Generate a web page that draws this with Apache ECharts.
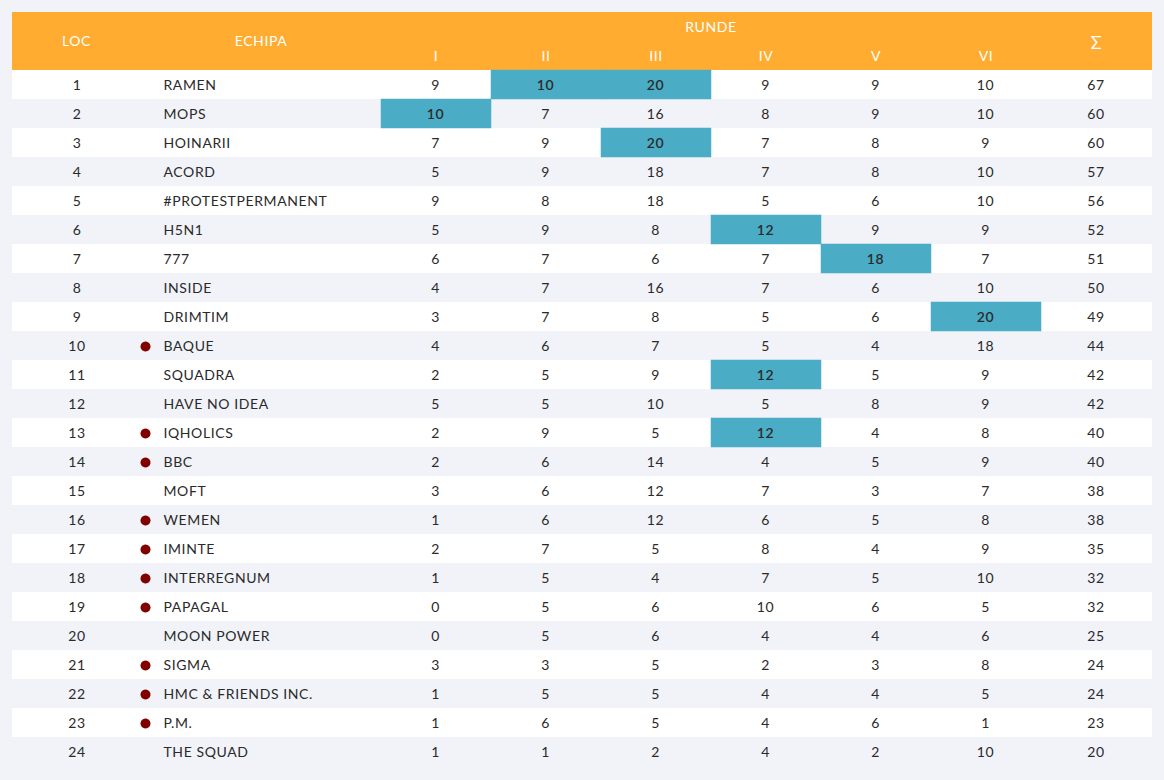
<!DOCTYPE html>
<html>
<head>
<meta charset="utf-8">
<title>Clasament</title>
<script src="https://cdn.jsdelivr.net/npm/echarts@6/dist/echarts.min.js"></script>
<style>
html, body { margin: 0; padding: 0; background: #f1f3f9; }
#chart { width: 1164px; height: 780px; }
#chart text { letter-spacing: 0.6px; }
</style>
</head>
<body>
<div id="chart"></div>
<script>
var places = ['1','2','3','4','5','6','7','8','9','10','11','12','13','14','15','16','17','18','19','20','21','22','23','24'];
var teams = ['RAMEN','MOPS','HOINARII','ACORD','#PROTESTPERMANENT','H5N1','777','INSIDE','DRIMTIM','BAQUE','SQUADRA','HAVE NO IDEA','IQHOLICS','BBC','MOFT','WEMEN','IMINTE','INTERREGNUM','PAPAGAL','MOON POWER','SIGMA','HMC & FRIENDS INC.','P.M.','THE SQUAD'];
var rounds = ['I','II','III','IV','V','VI'];
var round1 = [9,10,7,5,9,5,6,4,3,4,2,5,2,2,3,1,2,1,0,0,3,1,1,1];
var round2 = [10,7,9,9,8,9,7,7,7,6,5,5,9,6,6,6,7,5,5,5,3,5,6,1];
var round3 = [20,16,20,18,18,8,6,16,8,7,9,10,5,14,12,12,5,4,6,6,5,5,5,2];
var round4 = [9,8,7,7,5,12,7,7,5,5,12,5,12,4,7,6,8,7,10,4,2,4,4,4];
var round5 = [9,9,8,8,6,9,18,6,6,4,5,8,4,5,3,5,4,5,6,4,3,4,6,2];
var round6 = [10,10,9,10,10,9,7,10,20,18,9,9,8,9,7,8,9,10,5,6,8,5,1,10];
var totals = [67,60,60,57,56,52,51,50,49,44,42,42,40,40,38,38,35,32,32,25,24,24,23,20];
// teams with the red dot
var marked = ['BAQUE','IQHOLICS','BBC','WEMEN','IMINTE','INTERREGNUM','PAPAGAL','SIGMA','HMC & FRIENDS INC.','P.M.'];

var textColor = '#2a2a2a';
var headerColor = '#ffac30';
var bestColor = '#4bacc6';
var font = 'Lato, "Open Sans", sans-serif';

var myChart = echarts.init(document.getElementById('chart'), null, {renderer: 'svg'});

// round cells, the best score of each round gets the blue fill
var roundCols = [round1, round2, round3, round4, round5, round6];
var roundData = [];
roundCols.forEach(function (col, x) {
    var best = Math.max.apply(null, col);
    col.forEach(function (v, y) {
        var isBest = v === best;
        roundData.push({
            value: [x, y, v],
            itemStyle: {color: isBest ? bestColor : 'transparent'},
            label: {fontWeight: isBest ? 600 : 'normal'}
        });
    });
});

function columnData(values) {
    return values.map(function (v, y) {
        return [0, y, v];
    });
}

function rowAxis(gridIndex) {
    return {
        gridIndex: gridIndex,
        type: 'category',
        inverse: true,
        data: teams,
        axisLine: {show: false},
        axisTick: {show: false},
        axisLabel: {show: false},
        splitLine: {show: false},
        splitArea: {show: true, interval: 0, areaStyle: {color: ['#fff', 'transparent']}}
    };
}

function headAxis(gridIndex, data, margin, size) {
    return {
        gridIndex: gridIndex,
        type: 'category',
        position: 'top',
        data: data,
        axisLine: {show: false},
        axisTick: {show: false},
        splitLine: {show: false},
        axisLabel: {color: '#fff', fontFamily: font, fontSize: size || 14, margin: margin, interval: 0}
    };
}

function cellSeries(gridIndex, data, dx) {
    return {
        type: 'heatmap',
        xAxisIndex: gridIndex,
        yAxisIndex: gridIndex,
        data: data,
        silent: true,
        itemStyle: {color: 'transparent'},
        label: {
            show: true,
            color: textColor,
            fontFamily: font,
            fontSize: 14,
            offset: [dx, 0],
            formatter: function (p) { return p.value[2]; }
        }
    };
}

var teamAxis = rowAxis(1);
teamAxis.axisLabel = {
    show: true,
    inside: true,
    interval: 0,
    margin: 22.5,
    color: textColor,
    fontFamily: font,
    fontSize: 14
};

var roundAxis = headAxis(2, rounds, 8);
roundAxis.name = 'RUNDE';
roundAxis.nameLocation = 'middle';
roundAxis.nameGap = 37;
roundAxis.nameTextStyle = {color: '#fff', fontFamily: font, fontSize: 14};

option = {
    backgroundColor: '#f1f3f9',
    animation: false,
    grid: [
        {left: 12, top: 70, width: 129, height: 696},
        {left: 141, top: 70, width: 240, height: 696},
        {left: 381, top: 70, width: 660, height: 696},
        {left: 1041, top: 70, width: 111, height: 696},
        // header band
        {left: 12, top: 12, width: 1140, height: 58, show: true, backgroundColor: headerColor, borderWidth: 0}
    ],
    xAxis: [
        headAxis(0, ['LOC'], 23),
        headAxis(1, ['ECHIPA'], 23),
        roundAxis,
        headAxis(3, ['Σ'], 19, 18)
    ],
    yAxis: [rowAxis(0), teamAxis, rowAxis(2), rowAxis(3)],
    series: [
        cellSeries(0, columnData(places), 0.5),
        cellSeries(2, roundData, -0.5),
        cellSeries(3, columnData(totals), -0.5),
        {
            type: 'scatter',
            xAxisIndex: 1,
            yAxisIndex: 1,
            silent: true,
            symbol: 'circle',
            symbolSize: 10,
            symbolOffset: [-115.5, 1],
            itemStyle: {color: '#800000', opacity: 1},
            data: marked.map(function (name) {
                return [0, name];
            })
        }
    ]
};

myChart.setOption(option);
</script>
</body>
</html>
